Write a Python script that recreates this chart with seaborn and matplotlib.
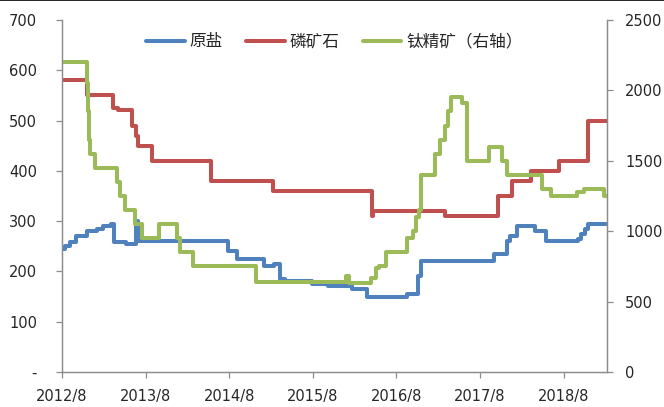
import matplotlib
matplotlib.use("Agg")
import matplotlib.pyplot as plt
from matplotlib.lines import Line2D
import pandas as pd
import seaborn as sns

# step change points (date, price)
salt_dates = ["2012-08-01", "2012-08-15", "2012-09-05", "2012-10-01", "2012-11-20",
              "2013-01-01", "2013-01-25", "2013-03-01", "2013-03-18", "2013-05-06",
              "2013-06-20", "2013-07-01", "2014-07-25", "2014-09-06", "2015-01-01",
              "2015-02-12", "2015-03-10", "2015-04-01", "2015-07-28", "2015-10-06",
              "2016-01-18", "2016-03-25", "2016-09-18", "2016-11-03", "2016-11-18",
              "2017-10-03", "2017-11-25", "2017-12-09", "2018-01-09", "2018-03-28",
              "2018-05-18", "2018-10-01", "2018-10-15", "2018-11-01", "2018-11-15",
              "2019-02-06"]
salt_vals = [245, 250, 258, 270, 280,
             285, 290, 295, 258, 255,
             300, 260, 240, 225, 210,
             215, 185, 180, 175, 170,
             165, 150, 155, 190, 220,
             235, 260, 270, 290, 280,
             260, 265, 275, 285, 295,
             295]

rock_dates = ["2012-08-01", "2012-11-18", "2013-03-10", "2013-04-01", "2013-06-01",
              "2013-06-22", "2013-07-01", "2013-08-28", "2014-05-15", "2015-02-10",
              "2016-04-15", "2016-04-22", "2017-02-28", "2017-10-18", "2017-12-18",
              "2018-03-10", "2018-07-10", "2018-11-15", "2019-02-06"]
rock_vals = [580, 550, 525, 520, 490,
             470, 450, 420, 380, 360,
             310, 320, 310, 350, 380,
             400, 420, 500, 500]

ti_dates = ["2012-08-01", "2012-11-18", "2012-11-24", "2012-11-28", "2012-12-01",
            "2012-12-22", "2013-03-27", "2013-04-10", "2013-05-01", "2013-06-14",
            "2013-07-18", "2013-09-27", "2013-12-15", "2013-12-28", "2014-02-24",
            "2014-11-28", "2015-12-25", "2016-01-08", "2016-04-12", "2016-05-04",
            "2016-05-18", "2016-06-18", "2016-09-18", "2016-10-10", "2016-10-27",
            "2016-11-06", "2016-11-15", "2017-01-15", "2017-02-06", "2017-02-27",
            "2017-03-12", "2017-03-25", "2017-05-16", "2017-06-06", "2017-09-10",
            "2017-11-06", "2017-11-28", "2018-04-28", "2018-06-06", "2018-09-28",
            "2018-10-28", "2019-01-25", "2019-02-06"]
ti_vals = [2200, 2050, 1850, 1650, 1550,
           1450, 1350, 1250, 1150, 1050,
           950, 1050, 950, 850, 750,
           640, 680, 630, 670, 740,
           750, 850, 950, 1000, 1100,
           1150, 1400, 1550, 1650, 1750,
           1850, 1950, 1910, 1500, 1600,
           1500, 1400, 1300, 1250, 1280,
           1300, 1250, 1250]

tick_dates = ["2012-08-01", "2013-08-01", "2014-08-01", "2015-08-01",
              "2016-08-01", "2017-08-01", "2018-08-01"]
tick_labels = ["2012/8", "2013/8", "2014/8", "2015/8", "2016/8", "2017/8", "2018/8"]
left_ticks = [0, 100, 200, 300, 400, 500, 600, 700]
left_labels = ["-", "100", "200", "300", "400", "500", "600", "700"]
right_ticks = [0, 500, 1000, 1500, 2000, 2500]

sns.set_style("white")
plt.rcParams['font.family'] = ['DejaVu Sans', 'Noto Sans CJK SC']

salt = pd.DataFrame({"date": pd.to_datetime(salt_dates), "value": salt_vals})
rock = pd.DataFrame({"date": pd.to_datetime(rock_dates), "value": rock_vals})
ti = pd.DataFrame({"date": pd.to_datetime(ti_dates), "value": ti_vals})

fig, ax = plt.subplots(figsize=(6.64, 4.07), dpi=100)
fig.subplots_adjust(left=0.0934, right=0.914, top=0.951, bottom=0.086)
ax2 = ax.twinx()

lw = 2.9
sns.lineplot(data=salt, x="date", y="value", ax=ax, color="#4F81BD", linewidth=lw,
             drawstyle="steps-post", label="原盐")
sns.lineplot(data=rock, x="date", y="value", ax=ax, color="#C0504D", linewidth=lw,
             drawstyle="steps-post", label="磷矿石")
sns.lineplot(data=ti, x="date", y="value", ax=ax2, color="#9BBB59", linewidth=lw,
             drawstyle="steps-post", label="钛精矿（右轴）")

ax.set_xlim(pd.Timestamp("2012-08-01"), pd.Timestamp("2019-02-06"))
ax.set_ylim(0, 700)
ax2.set_ylim(0, 2500)
ax.set_xticks(pd.to_datetime(tick_dates))
ax.set_xticklabels(tick_labels)
ax.set_yticks(left_ticks)
ax.set_yticklabels(left_labels)
ax2.set_yticks(right_ticks)
ax.set_xlabel("")
ax.set_ylabel("")
ax2.set_ylabel("")

for a in (ax, ax2):
    for s in a.spines.values():
        s.set_color("#8C8C8C")
        s.set_linewidth(0.9)
    a.spines["top"].set_visible(False)
    a.grid(False)
ax.tick_params(axis="x", direction="out", length=4, width=0.9, color="#8C8C8C",
               labelsize=10.5, pad=8, bottom=True)
ax.tick_params(axis="y", direction="out", length=4, width=0.9, color="#8C8C8C",
               labelsize=10.5, pad=14, left=True)
ax2.tick_params(axis="y", direction="out", length=4, width=0.9, color="#8C8C8C",
                labelsize=10.5, pad=9, right=True)

h1, l1 = ax.get_legend_handles_labels()
h2, l2 = ax2.get_legend_handles_labels()
if ax2.get_legend():
    ax2.get_legend().remove()
ax.legend(h1 + h2, l1 + l2, loc="center", bbox_to_anchor=(0.5, 0.9375), ncol=3,
          frameon=False, handlelength=2.3, handletextpad=0.3, columnspacing=1.4,
          prop={"family": ["Noto Sans CJK SC"], "size": 12})

fig.add_artist(Line2D([0, 1], [0.999, 0.999], transform=fig.transFigure,
                      color="black", linewidth=1.2))

fig.savefig("out.png", dpi=100)
